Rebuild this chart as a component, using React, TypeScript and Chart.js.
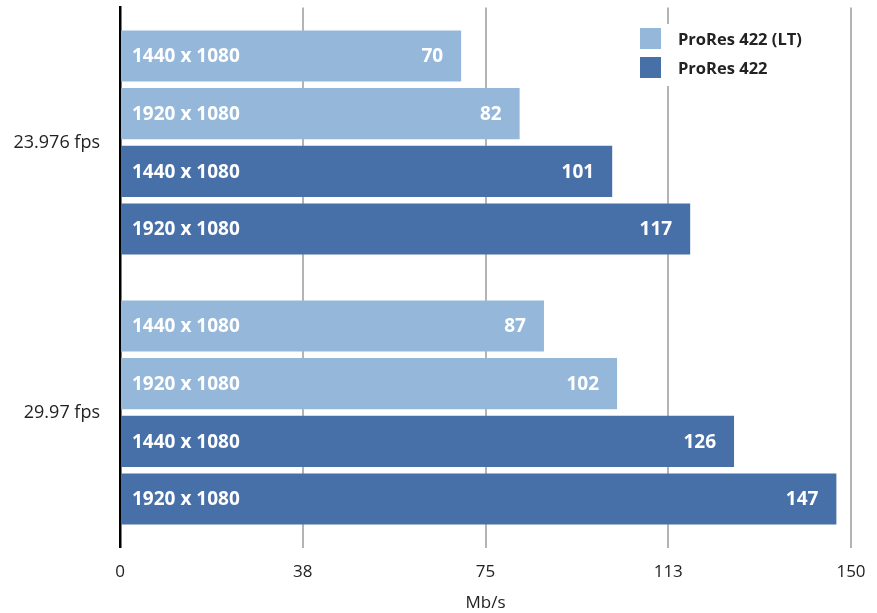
import React, { useEffect, useRef } from "react";
import { Chart, registerables } from "chart.js";

Chart.register(...registerables);

const categories = ["23.976 fps", "29.97 fps"];
const resolutions = ["1440 x 1080", "1920 x 1080"];
const codecs = ["ProRes 422 (LT)", "ProRes 422"];
const lt1440 = [70, 87];
const lt1920 = [82, 102];
const hq1440 = [101, 126];
const hq1920 = [117, 147];
const xTicks = [0, 37.5, 75, 112.5, 150];
const axisTitle = "Mb/s";

const LIGHT = "#95b8da";
const DARK = "#4870a8";
const FONT = "'Open Sans', 'Noto Sans', sans-serif";

const seriesDefs = [
  { data: lt1440, codec: 0, res: 0 },
  { data: lt1920, codec: 0, res: 1 },
  { data: hq1440, codec: 1, res: 0 },
  { data: hq1920, codec: 1, res: 1 },
];

const barLabelPlugin = {
  id: "barLabels",
  afterDatasetsDraw(chart: any) {
    const ctx = chart.ctx;
    ctx.save();
    ctx.font = `bold 19px ${FONT}`;
    ctx.fillStyle = "#ffffff";
    ctx.textBaseline = "middle";
    chart.data.datasets.forEach((ds: any, di: number) => {
      const meta = chart.getDatasetMeta(di);
      meta.data.forEach((el: any, i: number) => {
        const p = el.getProps(["x", "y", "base"], true);
        ctx.textAlign = "left";
        ctx.fillText(resolutions[seriesDefs[di].res], p.base + 11, p.y + 1);
        ctx.textAlign = "right";
        ctx.fillText(String(ds.data[i]), p.x - 18, p.y + 1);
      });
    });
    ctx.restore();
  },
};

const legendPlugin = {
  id: "customLegend",
  afterDraw(chart: any) {
    const ctx = chart.ctx;
    const area = chart.chartArea;
    const x0 = area.right - 211;
    const y0 = area.top + 20.5;
    ctx.save();
    ctx.fillStyle = "#ffffff";
    ctx.fillRect(x0 - 12, y0 - 4, 180, 62);
    ctx.font = `bold 16.5px ${FONT}`;
    ctx.textBaseline = "middle";
    ctx.textAlign = "left";
    codecs.forEach((name, i) => {
      const y = y0 + i * 29;
      ctx.fillStyle = i === 0 ? LIGHT : DARK;
      ctx.fillRect(x0, y, 21, 21);
      ctx.fillStyle = "#222222";
      ctx.fillText(name, x0 + 38, y + 12);
    });
    ctx.restore();
  },
};

export default function App() {
  const ref = useRef<HTMLCanvasElement>(null);
  useEffect(() => {
    document.body.style.margin = "0";
    const chart = new Chart(ref.current as HTMLCanvasElement, {
      type: "bar",
      data: {
        labels: categories,
        datasets: seriesDefs.map((s) => ({
          label: `${codecs[s.codec]} ${resolutions[s.res]}`,
          data: s.data,
          backgroundColor: s.codec === 0 ? LIGHT : DARK,
          borderWidth: 0,
          categoryPercentage: 0.855,
          barPercentage: 0.885,
        })),
      },
      options: {
        indexAxis: "y",
        animation: false,
        responsive: false,
        layout: { padding: { left: 0, right: 26, top: 7.5, bottom: 0 } },
        plugins: {
          legend: { display: false },
          tooltip: { enabled: false },
        },
        scales: {
          x: {
            type: "linear",
            min: 0,
            max: 150,
            afterBuildTicks(scale: any) {
              scale.ticks = xTicks.map((v) => ({ value: v }));
            },
            afterFit(scale: any) {
              scale.height = 65.5;
              scale.paddingLeft = 0;
              scale.paddingRight = 0;
            },
            ticks: {
              color: "#222222",
              font: { family: FONT, size: 17 },
              padding: 14,
              callback: (v: any) => String(Math.round(Number(v))),
              maxRotation: 0,
            },
            grid: {
              drawTicks: false,
              lineWidth: 2,
              color: (c: any) => (c.tick && c.tick.value === 0 ? "rgba(0,0,0,0)" : "#b4b4b4"),
            },
            border: { display: false },
            title: {
              display: true,
              text: axisTitle,
              color: "#222222",
              font: { family: FONT, size: 17 },
              padding: { top: 1, bottom: 0 },
            },
          },
          y: {
            type: "category",
            afterFit(scale: any) {
              scale.width = 120;
              scale.paddingTop = 0;
              scale.paddingBottom = 0;
            },
            ticks: {
              color: "#222222",
              font: { family: FONT, size: 18 },
              padding: 20,
            },
            grid: { display: false, drawTicks: false },
            border: { display: true, color: "#000000", width: 2.5 },
          },
        },
      },
      plugins: [barLabelPlugin, legendPlugin],
    } as any);
    return () => chart.destroy();
  }, []);
  return (
    <div style={{ width: 877, height: 613 }}>
      <canvas ref={ref} width={877} height={613} />
    </div>
  );
}
